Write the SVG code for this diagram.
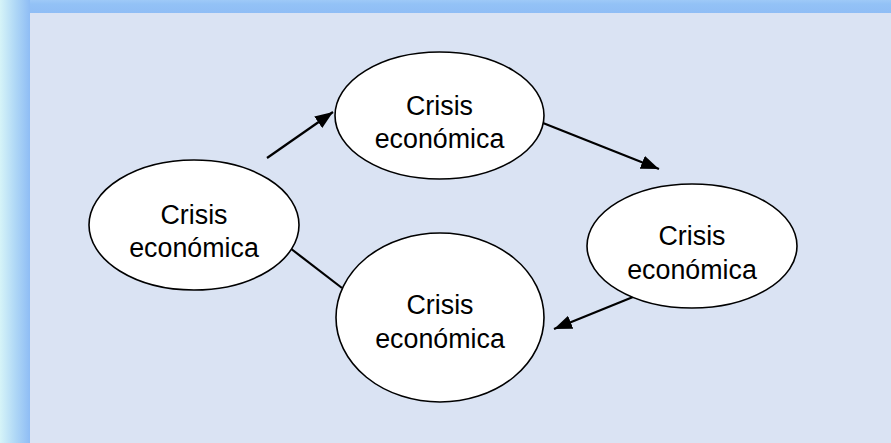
<svg xmlns="http://www.w3.org/2000/svg" width="891" height="443" viewBox="0 0 891 443">
<defs>
<linearGradient id="lg" x1="0" y1="0" x2="1" y2="0">
<stop offset="0" stop-color="#d6f4f8"/>
<stop offset="0.5" stop-color="#b0d8f6"/>
<stop offset="1" stop-color="#8fbdf5"/>
</linearGradient>
<linearGradient id="tg" x1="0" y1="0" x2="0" y2="1">
<stop offset="0" stop-color="#9ec9f7"/>
<stop offset="0.3" stop-color="#93c2f6"/>
<stop offset="1" stop-color="#8fbdf5"/>
</linearGradient>
<marker id="ah" viewBox="0 0 18 14" refX="18" refY="7" markerWidth="18" markerHeight="14" markerUnits="userSpaceOnUse" orient="auto">
<path d="M0,0 L18,7 L0,14 z" fill="#000"/>
</marker>
<style>
.node ellipse{fill:#fff;stroke:#000;stroke-width:1.6}
.node text{font-family:"Liberation Sans",Arial,sans-serif;font-size:26.8px;fill:#000;text-anchor:middle}
.conn line{stroke:#000;stroke-width:2.2}
</style>
</defs>
<rect x="0" y="0" width="891" height="443" fill="#dae3f3"/>
<rect x="0" y="0" width="891" height="13" fill="url(#tg)"/>
<rect x="0" y="0" width="30" height="443" fill="url(#lg)"/>
<g id="connectors" class="conn">
<line x1="267" y1="158" x2="333" y2="112" marker-end="url(#ah)"/>
<line x1="543" y1="123" x2="659" y2="169" marker-end="url(#ah)"/>
<line x1="633" y1="297" x2="554" y2="329" marker-end="url(#ah)"/>
<line x1="290" y1="248" x2="342" y2="288"/>
</g>
<g id="node-top" class="node">
<ellipse cx="439.5" cy="115.5" rx="104.5" ry="63.5"/>
<text x="439.5" y="115">Crisis</text>
<text x="439.5" y="148">económica</text>
</g>
<g id="node-left" class="node">
<ellipse cx="194" cy="225" rx="105" ry="65"/>
<text x="194" y="224">Crisis</text>
<text x="194" y="257">económica</text>
</g>
<g id="node-right" class="node">
<ellipse cx="692" cy="246" rx="105" ry="62"/>
<text x="692" y="245">Crisis</text>
<text x="692" y="279">económica</text>
</g>
<g id="node-bottom" class="node">
<ellipse cx="440" cy="317.5" rx="104" ry="84.5"/>
<text x="440" y="314">Crisis</text>
<text x="440" y="348">económica</text>
</g>
</svg>
